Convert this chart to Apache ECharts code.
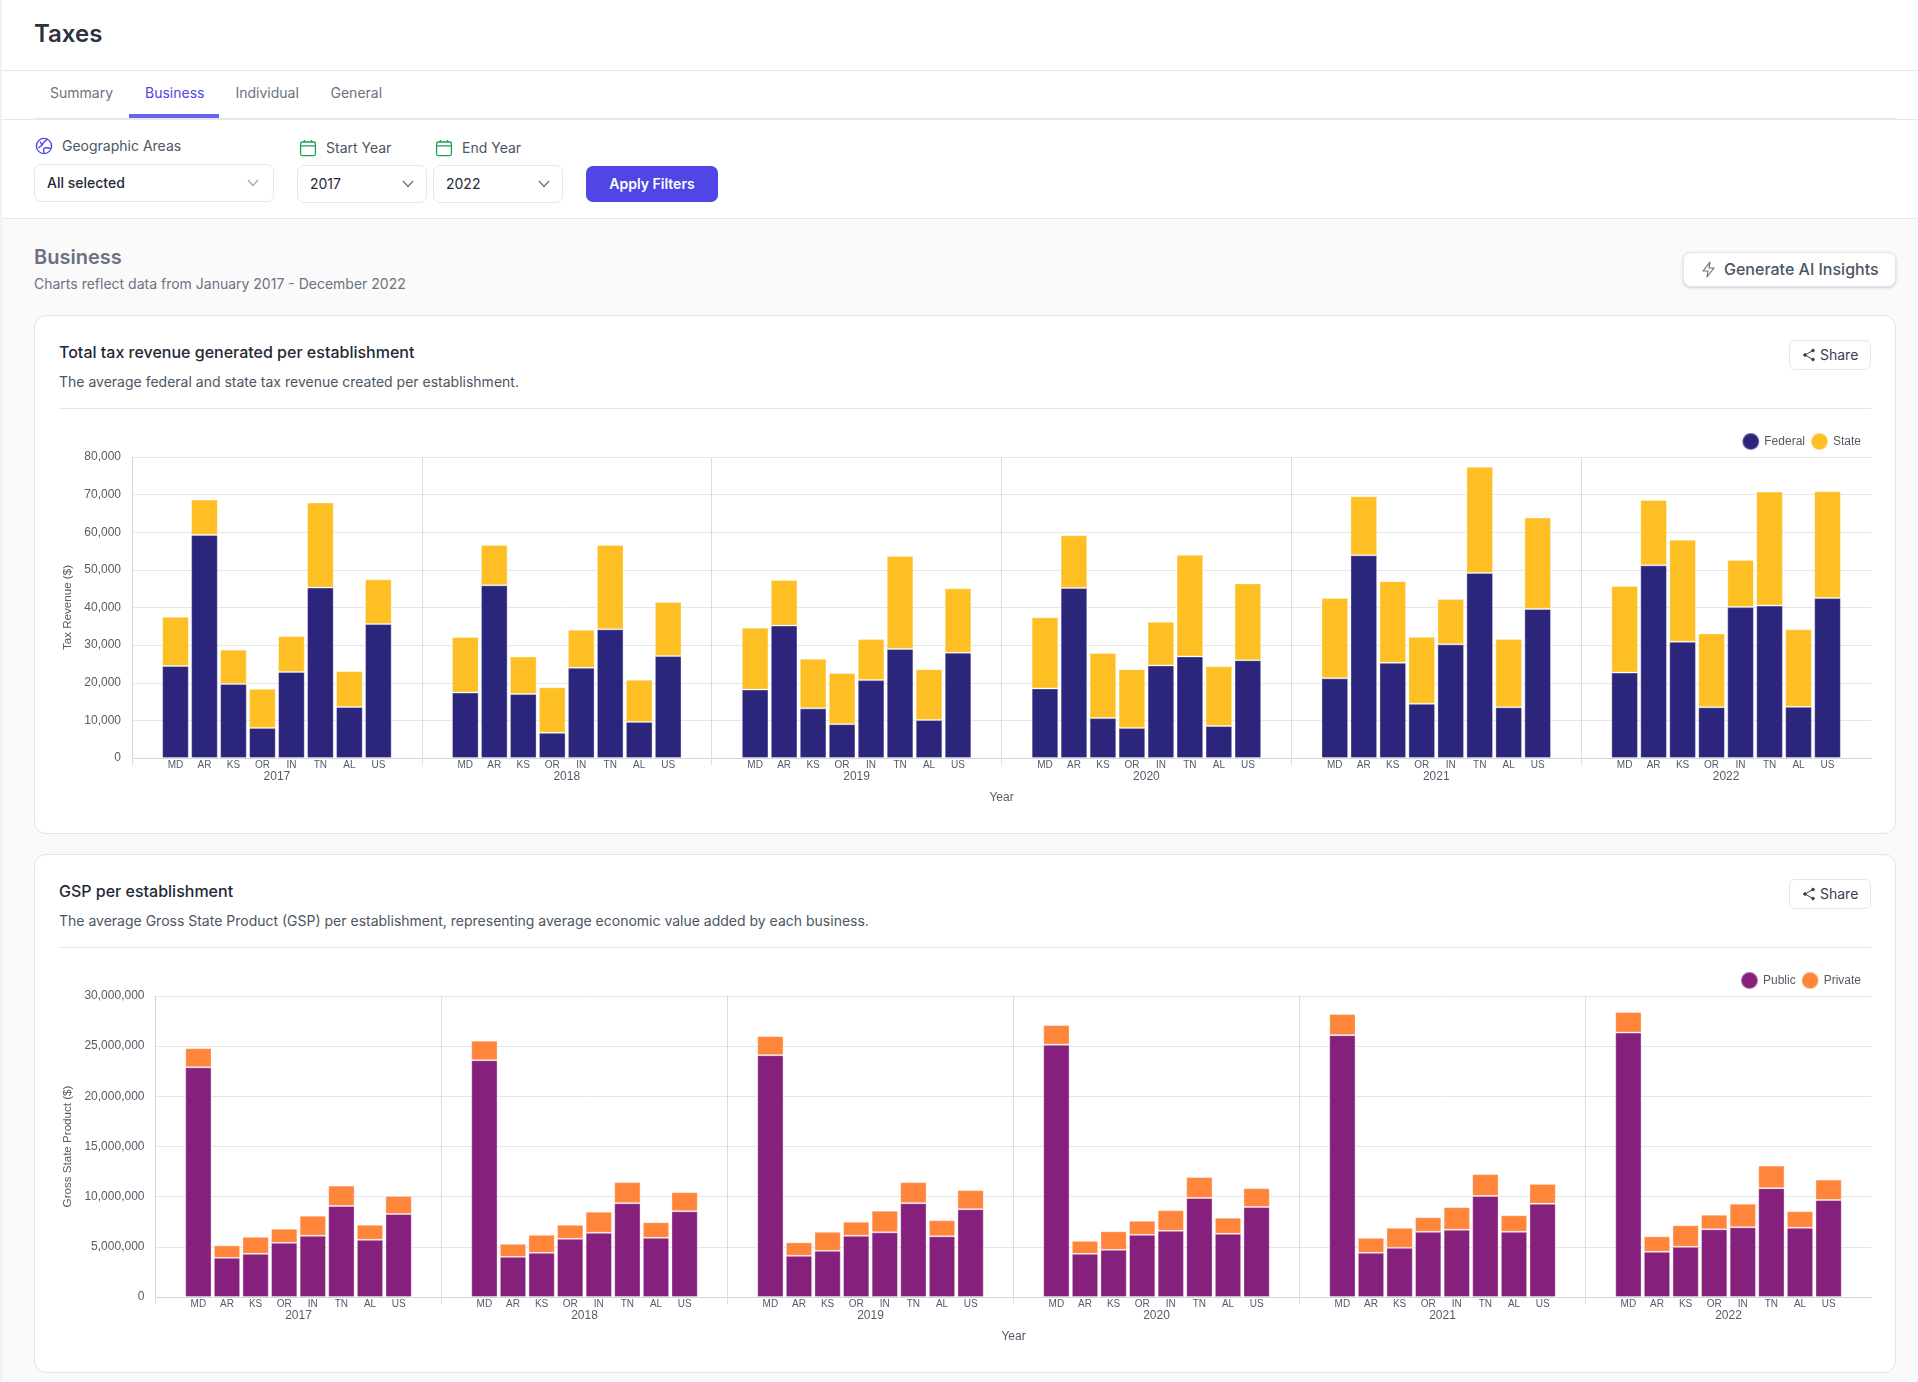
<!DOCTYPE html>
<html lang="en">
<head>
<meta charset="utf-8">
<title>Taxes</title>
<script src="https://cdn.jsdelivr.net/npm/echarts@6/dist/echarts.min.js"></script>
<style>
  html, body { margin: 0; padding: 0; }
  body { width: 1918px; height: 1382px; position: relative; overflow: hidden; background: #fafafa;
         font-family: Inter, "Noto Sans", sans-serif; color: #1f2937; }
  .abs { position: absolute; white-space: nowrap; line-height: 20px; }
  .band { position: absolute; left: 2px; right: 0; top: 0; height: 218px; background: #fff; border-bottom: 1px solid #e5e7eb; }
  .edge { position: absolute; left: 0; top: 0; bottom: 0; width: 2px; background: #f1f2f4; }
  .rule { position: absolute; height: 1px; background: #e5e7eb; }
  .card { position: absolute; left: 34px; width: 1862px; box-sizing: border-box; background: #fff;
          border: 1px solid #e2e4ee; border-radius: 12px; }
  .select { position: absolute; box-sizing: border-box; background: #fff; border: 1px solid #e5e7eb; border-radius: 7px; }
  .share { position: absolute; left: 1789px; width: 82px; height: 30px; box-sizing: border-box; background: #fff;
           border: 1px solid #e5e7eb; border-radius: 6px; }
  .chart { position: absolute; left: 36px; width: 1858px; height: 410px; }
  svg { position: absolute; }
</style>
</head>
<body>
<div class="band"></div>
<div class="edge"></div>
<div class="rule" style="left:2px;right:0;top:70px"></div>
<div class="abs" style="left:34px;top:18px;font-size:24px;line-height:32px;font-weight:600;color:#2b3340">Taxes</div>

<div class="rule" style="left:2px;right:0;top:119px"></div>
<div class="rule" style="left:34px;width:1862px;top:118px;height:2px;background:#e7e8ec"></div>
<div class="abs" style="left:50px;top:83px;font-size:14px;color:#6b7280">Summary</div>
<div class="abs" style="left:145px;top:83px;font-size:14px;color:#4f46e5">Business</div>
<div class="abs" style="left:235.5px;top:83px;font-size:14px;color:#6b7280">Individual</div>
<div class="abs" style="left:330.5px;top:83px;font-size:14px;color:#6b7280">General</div>
<div class="rule" style="left:129px;width:90px;top:114px;height:4px;background:#6366f1"></div>

<!-- filter bar -->
<svg style="left:35px;top:137px" width="18" height="18" viewBox="0 0 18 18" fill="none" stroke="#4f46e5" stroke-width="1.4">
  <circle cx="9" cy="9" r="7.6"/>
  <path d="M3.5 11 L7 8 L9 5 L12 2.5 M9 16 L8.5 12 L11 10.5 L15.5 11.5 M5 4.5 L7 8"/>
</svg>
<div class="abs" style="left:62px;top:136px;font-size:14px;color:#4b5563">Geographic Areas</div>
<div class="select" style="left:34px;top:164px;width:240px;height:38px"></div>
<div class="abs" style="left:47px;top:173px;font-size:14px;font-weight:500;color:#1f2937">All selected</div>
<svg style="left:247px;top:178px" width="12" height="10" viewBox="0 0 12 10" fill="none" stroke="#9ca3af" stroke-width="1.2"><path d="M1 2 L6 7.5 L11 2"/></svg>

<svg style="left:299px;top:139px" width="18" height="18" viewBox="0 0 18 18" fill="none" stroke="#16a34a" stroke-width="1.3">
  <rect x="1.6" y="3" width="14.8" height="13.6" rx="1.5"/><path d="M1.6 6.8 H16.4 M5.5 1 V3 M12.5 1 V3"/>
</svg>
<div class="abs" style="left:326px;top:138px;font-size:14px;color:#4b5563">Start Year</div>
<svg style="left:435px;top:139px" width="18" height="18" viewBox="0 0 18 18" fill="none" stroke="#16a34a" stroke-width="1.3">
  <rect x="1.6" y="3" width="14.8" height="13.6" rx="1.5"/><path d="M1.6 6.8 H16.4 M5.5 1 V3 M12.5 1 V3"/>
</svg>
<div class="abs" style="left:462px;top:138px;font-size:14px;color:#4b5563">End Year</div>

<div class="select" style="left:297px;top:165px;width:130px;height:38px"></div>
<div class="abs" style="left:310px;top:174px;font-size:14px;color:#1f2937">2017</div>
<svg style="left:402px;top:179px" width="12" height="10" viewBox="0 0 12 10" fill="none" stroke="#6b7280" stroke-width="1.3"><path d="M1 2 L6 7.5 L11 2"/></svg>
<div class="select" style="left:433px;top:165px;width:130px;height:38px"></div>
<div class="abs" style="left:446px;top:174px;font-size:14px;color:#1f2937">2022</div>
<svg style="left:538px;top:179px" width="12" height="10" viewBox="0 0 12 10" fill="none" stroke="#6b7280" stroke-width="1.3"><path d="M1 2 L6 7.5 L11 2"/></svg>

<div class="abs" style="left:586px;top:166px;width:132px;height:36px;background:#4f46e5;border-radius:7px;color:#fff;font-size:14px;font-weight:600;line-height:36px;text-align:center">Apply Filters</div>

<!-- section header -->
<div class="abs" style="left:34px;top:243px;font-size:20px;line-height:28px;font-weight:600;color:#6b7280">Business</div>
<div class="abs" style="left:34px;top:274px;font-size:14px;color:#6b7280">Charts reflect data from January 2017 - December 2022</div>
<div class="abs" style="left:1683px;top:252px;width:213px;height:35px;box-sizing:border-box;background:#fff;border:1px solid #e5e7eb;border-radius:8px;box-shadow:0 1px 3px rgba(79,70,160,.25)"></div>
<svg style="left:1701px;top:261px" width="15" height="17" viewBox="0 0 15 17" fill="none" stroke="#6b7280" stroke-width="1.2" stroke-linejoin="round"><path d="M9 1 L2 10 H7 L6 16 L13 7 H8 Z"/></svg>
<div class="abs" style="left:1724px;top:259px;font-size:16px;font-weight:500;color:#4b5563">Generate AI Insights</div>

<!-- first card -->
<div class="card" style="top:315px;height:519px"></div>
<div class="abs" style="left:59px;top:342px;font-size:16px;font-weight:500;color:#1f2937">Total tax revenue generated per establishment</div>
<div class="abs" style="left:59px;top:372px;font-size:14px;color:#4b5563">The average federal and state tax revenue created per establishment.</div>
<div class="rule" style="left:59px;width:1812px;top:408px"></div>
<div class="share" style="top:340px"></div>
<svg style="left:1802px;top:348px" width="14" height="14" viewBox="0 0 14 14" fill="#374151" stroke="#374151" stroke-width="1"><path d="M11 2.5 L3 7 L11 11.5" fill="none"/><circle cx="11" cy="2.5" r="1.3"/><circle cx="3" cy="7" r="1.3"/><circle cx="11" cy="11.5" r="1.3"/></svg>
<div class="abs" style="left:1820px;top:345px;font-size:14px;color:#374151">Share</div>
<div class="chart" id="taxChart" style="top:420px"></div>

<!-- second card -->
<div class="card" style="top:854px;height:519px"></div>
<div class="abs" style="left:59px;top:881px;font-size:16px;font-weight:500;color:#1f2937">GSP per establishment</div>
<div class="abs" style="left:59px;top:911px;font-size:14px;color:#4b5563">The average Gross State Product (GSP) per establishment, representing average economic value added by each business.</div>
<div class="rule" style="left:59px;width:1812px;top:947px"></div>
<div class="share" style="top:879px"></div>
<svg style="left:1802px;top:887px" width="14" height="14" viewBox="0 0 14 14" fill="#374151" stroke="#374151" stroke-width="1"><path d="M11 2.5 L3 7 L11 11.5" fill="none"/><circle cx="11" cy="2.5" r="1.3"/><circle cx="3" cy="7" r="1.3"/><circle cx="11" cy="11.5" r="1.3"/></svg>
<div class="abs" style="left:1820px;top:884px;font-size:14px;color:#374151">Share</div>
<div class="chart" id="gspChart" style="top:959px"></div>

<script>
// Year groups and the state codes shown inside each group
const years = ['2017', '2018', '2019', '2020', '2021', '2022'];
const states = ['MD', 'AR', 'KS', 'OR', 'IN', 'TN', 'AL', 'US'];

// Tax revenue per establishment, in dollars
const federal2017 = [24450, 59300, 19700, 8000, 22850, 45300, 13550, 35600];
const federal2018 = [17400, 45900, 17000, 6700, 24000, 34200, 9600, 27100];
const federal2019 = [18200, 35200, 13200, 9000, 20700, 29000, 10100, 28000];
const federal2020 = [18500, 45200, 10600, 8000, 24600, 27000, 8500, 26000];
const federal2021 = [21200, 53900, 25300, 14400, 30200, 49200, 13500, 39600];
const federal2022 = [22700, 51200, 30900, 13500, 40100, 40500, 13600, 42500];

const state2017 = [13100, 9400, 9100, 10400, 9550, 22600, 9550, 11900];
const state2018 = [14750, 10700, 10000, 12100, 10100, 22400, 11200, 14350];
const state2019 = [16400, 12100, 13200, 13600, 10900, 24700, 13500, 17100];
const state2020 = [18900, 14000, 17300, 15600, 11600, 27000, 15900, 20400];
const state2021 = [21300, 15700, 21700, 17800, 12050, 28200, 18100, 24300];
const state2022 = [23000, 17400, 27100, 19600, 12500, 30300, 20600, 28400];

// Gross State Product per establishment, in dollars
const public2017 = [22900000, 3900000, 4300000, 5400000, 6100000, 9070000, 5700000, 8270000];
const public2018 = [23600000, 4000000, 4400000, 5800000, 6400000, 9350000, 5900000, 8550000];
const public2019 = [24100000, 4100000, 4600000, 6100000, 6450000, 9350000, 6050000, 8750000];
const public2020 = [25150000, 4300000, 4700000, 6200000, 6600000, 9870000, 6300000, 8970000];
const public2021 = [26100000, 4400000, 4900000, 6500000, 6700000, 10070000, 6500000, 9300000];
const public2022 = [26350000, 4500000, 5000000, 6750000, 6950000, 10850000, 6900000, 9670000];

const private2017 = [1900000, 1250000, 1700000, 1400000, 2000000, 2030000, 1500000, 1800000];
const private2018 = [1950000, 1300000, 1800000, 1400000, 2100000, 2100000, 1550000, 1900000];
const private2019 = [1900000, 1350000, 1900000, 1400000, 2150000, 2100000, 1600000, 1900000];
const private2020 = [1950000, 1300000, 1850000, 1400000, 2050000, 2080000, 1600000, 1880000];
const private2021 = [2100000, 1500000, 2000000, 1450000, 2250000, 2180000, 1650000, 1970000];
const private2022 = [2050000, 1550000, 2150000, 1450000, 2350000, 2250000, 1650000, 2030000];

const TEXT = '#565a66';
const FONT = '"Liberation Sans", Arial, sans-serif';
const GRID_LINE = '#e5e7eb';
const GROUP_LINE = '#dcdde0';
const AXIS_LINE = '#d3d5da';

// Each year takes ten category slots: a blank one on either side of the eight states
const slotLabels = years.flatMap(() => ['', ...states, '']);
const spread = (rows) => rows.flatMap((row) => [null, ...row, null]);

function stackedSeries(name, rows, color) {
  return {
    name, type: 'bar', stack: 'total', data: spread(rows), barCategoryGap: '8%',
    itemStyle: { color, borderColor: 'rgba(255,255,255,0.35)', borderWidth: 1 },
    xAxisIndex: 0, yAxisIndex: 0, silent: true
  };
}

function drawChart(el, cfg) {
  const chart = echarts.init(document.getElementById(el));
  chart.setOption({
    animation: false,
    textStyle: { fontFamily: FONT },
    legend: {
      right: 33, top: 12, padding: 0, icon: 'circle', itemWidth: 17, itemHeight: 17, itemGap: 5, selectedMode: false,
      textStyle: { color: TEXT, fontSize: 12, fontFamily: FONT }, data: cfg.series.map((s) => s.name)
    },
    grid: { left: cfg.left, top: 37, width: cfg.width, height: 301 },
    xAxis: [
      {
        type: 'category', data: slotLabels, position: 'bottom',
        axisLine: { lineStyle: { color: AXIS_LINE, width: 1 } },
        axisTick: { show: false },
        axisLabel: { interval: 0, margin: 2, color: TEXT, fontSize: 10, fontFamily: FONT }
      },
      {
        // Continuous year scale: separators at year boundaries, year labels centred between them
        type: 'value', min: 0, max: years.length, interval: 1, position: 'bottom',
        axisLine: { show: false },
        axisTick: { show: true, length: 7, lineStyle: { color: GROUP_LINE }, customValues: years.map((y, i) => i) },
        splitLine: { show: true, lineStyle: { color: GROUP_LINE, width: 1 } },
        axisLabel: {
          margin: 13, color: TEXT, fontSize: 12, fontFamily: FONT,
          customValues: years.map((y, i) => i + 0.5),
          formatter: (v) => years[Math.floor(v)]
        },
        name: 'Year', nameLocation: 'middle', nameGap: 34,
        nameTextStyle: { color: TEXT, fontSize: 12, fontFamily: FONT }
      }
    ],
    yAxis: {
      type: 'value', min: 0, max: cfg.max, interval: cfg.step,
      axisLine: { show: true, lineStyle: { color: AXIS_LINE } },
      axisTick: { show: false },
      splitLine: { lineStyle: { color: GRID_LINE, width: 1 } },
      axisLabel: { margin: 11, padding: [4, 0, 0, 0], color: TEXT, fontSize: 12, fontFamily: FONT, formatter: (v) => v.toLocaleString('en-US') },
      name: cfg.yName, nameLocation: 'middle', nameGap: cfg.nameGap,
      nameTextStyle: { color: TEXT, fontSize: 11.6, fontFamily: FONT }
    },
    series: cfg.series
  });
}

drawChart('taxChart', {
  left: 96, width: 1739, max: 80000, step: 10000, yName: 'Tax Revenue ($)', nameGap: 54,
  series: [
    stackedSeries('Federal', [federal2017, federal2018, federal2019, federal2020, federal2021, federal2022], '#2b267c'),
    stackedSeries('State', [state2017, state2018, state2019, state2020, state2021, state2022], '#fdbf23')
  ]
});

drawChart('gspChart', {
  left: 119.5, width: 1716, max: 30000000, step: 5000000, yName: 'Gross State Product ($)', nameGap: 77,
  series: [
    stackedSeries('Public', [public2017, public2018, public2019, public2020, public2021, public2022], '#85207d'),
    stackedSeries('Private', [private2017, private2018, private2019, private2020, private2021, private2022], '#fe853a')
  ]
});
</script>
</body>
</html>
